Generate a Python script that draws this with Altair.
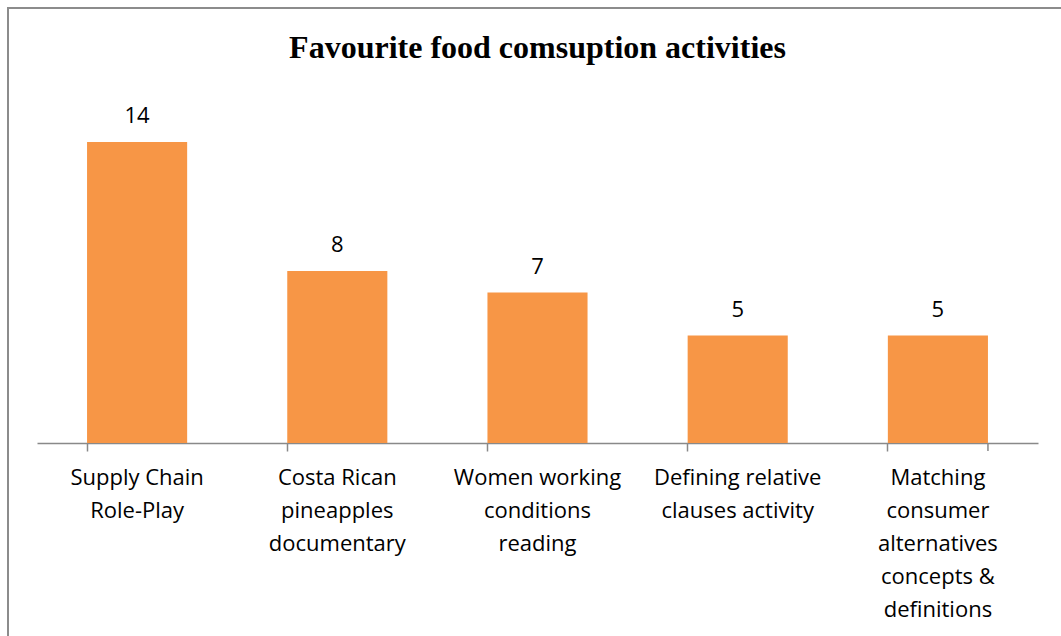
import altair as alt
import pandas as pd

categories = [
    "Supply Chain|Role-Play",
    "Costa Rican|pineapples|documentary",
    "Women working|conditions|reading",
    "Defining relative|clauses activity",
    "Matching|consumer|alternatives|concepts &|definitions",
]
values = [14, 8, 7, 5, 5]
title_text = "Favourite food comsuption activities"

df = pd.DataFrame({"cat": categories, "val": values})
W, H = 1001, 344
BAR = "#F79646"
GRAY = "#898989"
FONT = "Open Sans"

xscale = alt.Scale(domain=categories, paddingInner=0.5, paddingOuter=0.25)
yscale = alt.Scale(domain=[0, 16])

base = alt.Chart(df)

bars = base.mark_bar(color=BAR).encode(
    x=alt.X("cat:N", scale=xscale, sort=None,
            axis=alt.Axis(title=None, bandPosition=0, tickSize=8, tickColor=GRAY,
                          tickWidth=1.5, domainColor=GRAY, domainWidth=1.5,
                          labelExpr="split(datum.value, '|')", labelAngle=0,
                          labelPadding=16, labelFont=FONT,
                          labelFontSize=22, labelColor="#000000", labelLineHeight=33,
                          labelOverlap=False, labelBound=False, labelFlush=False,
                          labelBaseline="top")),
    y=alt.Y("val:Q", scale=yscale, axis=None),
)

labels = base.mark_text(font=FONT, fontSize=22, color="#000000",
                        baseline="alphabetic", dy=-19).encode(
    x=alt.X("cat:N", scale=xscale, sort=None),
    y=alt.Y("val:Q", scale=yscale),
    text="val:Q",
)

end_tick = alt.Chart(pd.DataFrame({"cat": [categories[-1]]})).mark_rule(
    color=GRAY, strokeWidth=1.5).encode(
    x=alt.X("cat:N", scale=xscale, bandPosition=1),
    y=alt.value(H), y2=alt.value(H + 8),
)

frame = alt.Chart(pd.DataFrame({"cat": [categories[0]]})).mark_rect(
    fill="transparent", stroke="#8c8c8c", strokeWidth=2).encode(
    x=alt.value(-29), x2=alt.value(W + 60),
    y=alt.value(-91), y2=alt.value(H + 250),
)

title = alt.Chart(pd.DataFrame({"t": [title_text]})).mark_text(
    font="Liberation Serif", fontSize=32, fontWeight="bold", color="#000000",
    align="center", baseline="alphabetic").encode(
    x=alt.value(W / 2), y=alt.value(-41), text="t:N",
)

chart = alt.layer(frame, bars, labels, end_tick, title).properties(
    width=W, height=H,
    autosize=alt.AutoSizeParams(type="none"),
    padding={"left": 37, "top": 99, "right": 23, "bottom": 193},
).configure(background="white").configure_view(strokeWidth=0)

chart.save("out.html", embed_options={"renderer": "svg", "actions": False})
